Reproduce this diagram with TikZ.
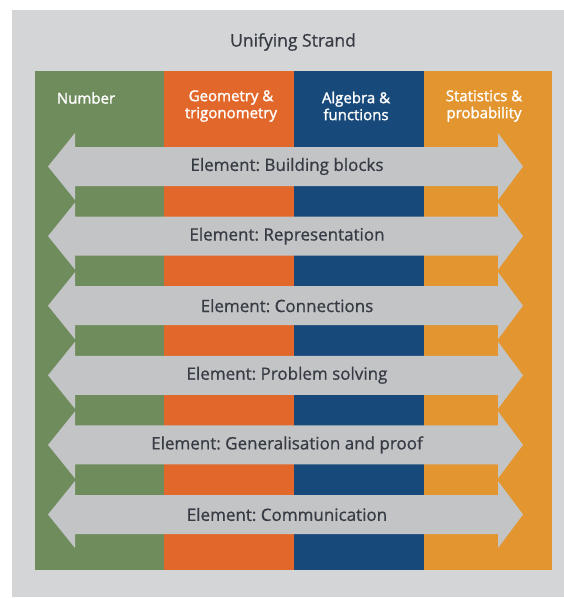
\documentclass[tikz,border=0pt]{standalone}
\usepackage{fontspec}
\setmainfont{Open Sans}
\newfontfamily\headfont{Open Sans}[FakeBold=1.6]
\newfontfamily\labelfont{Open Sans}[FakeBold=0.8]
\usetikzlibrary{positioning}
\frenchspacing

\definecolor{bgGray}{HTML}{D4D5D7}
\definecolor{bandGray}{HTML}{C3C4C6}
\definecolor{txtGray}{HTML}{363B44}
\definecolor{numGreen}{HTML}{6F8C5C}
\definecolor{geoOrange}{HTML}{E2672A}
\definecolor{algBlue}{HTML}{17497A}
\definecolor{statYellow}{HTML}{E3952F}

\begin{document}
\begin{tikzpicture}
  [
    x=1pt, y=-1pt,
    Title/.style={text=txtGray, font=\labelfont\fontsize{17.5}{20}\selectfont},
    Head/.style={text=white, align=center, font=\headfont\fontsize{15}{17}\selectfont},
    Label/.style={text=txtGray, font=\labelfont\fontsize{17}{20}\selectfont}
  ]
  \useasboundingbox (0,0) rectangle (564,598);

  % Background and columns
  \fill[bgGray] (12,10) rectangle (564,597);
  \fill[numGreen] (35,71) rectangle (164,570);
  \fill[geoOrange] (164,71) rectangle (294,570);
  \fill[algBlue] (294,71) rectangle (424,570);
  \fill[statYellow] (424,71) rectangle (552,570);

  % Nodes
  \node[Title] (title) at (293,42) {Unifying Strand};

  \node[Head] (number) at (86,98) {Number};
  \node[Head] (geometry) at (231,106) {Geometry \&\\trigonometry};
  \node[Head] (algebra) at (356,106) {Algebra \&\\functions};
  \node[Head] (statistics) at (484,106) {Statistics \&\\probability};

  % Elements
  \foreach \i/\txt in {0/Building blocks, 1/Representation, 2/Connections,
                       3/Problem solving, 4/Generalisation and proof, 5/Communication}
  {
    \pgfmathsetmacro\cy{166.5+69.6*\i}
    \fill[bandGray] (48,\cy) -- (75,\cy-33.5) -- (75,\cy-19.5) -- (498,\cy-19.5)
      -- (498,\cy-33.5) -- (523,\cy) -- (498,\cy+33.5) -- (498,\cy+19.5)
      -- (75,\cy+19.5) -- (75,\cy+33.5) -- cycle;
    \node[Label] (element\i) at (287,\cy) {Element: \txt};
  }

\end{tikzpicture}
\end{document}
